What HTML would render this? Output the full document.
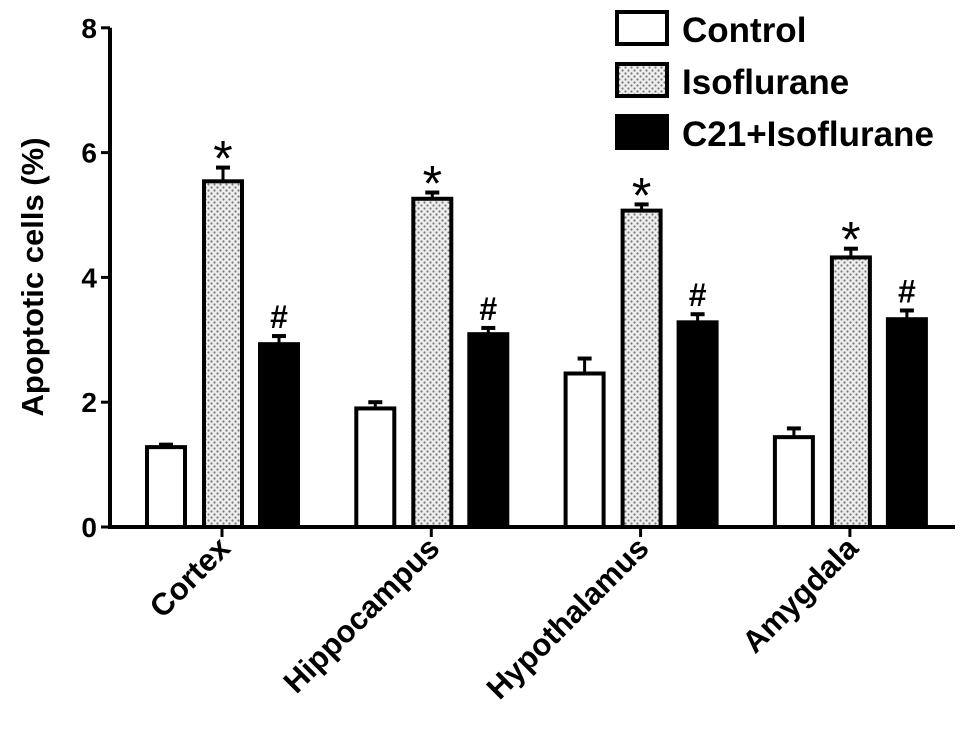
<!DOCTYPE html>
<html><head><meta charset="utf-8"><style>body{margin:0;background:#fff}svg{display:block;font-family:"Liberation Sans",Arial,sans-serif;font-weight:bold}</style></head>
<body>
<svg id="chart" width="969" height="737" viewBox="0 0 969 737" xmlns="http://www.w3.org/2000/svg">
<defs><pattern id="dots" width="6" height="6" patternUnits="userSpaceOnUse"><rect width="6" height="6" fill="#eee"/><circle cx="1.5" cy="1.5" r="1.1" fill="#777"/><circle cx="4.5" cy="4.5" r="1.1" fill="#777"/></pattern></defs>
<g id="plot"></g>
</svg>
<script>
const categories=["Cortex","Hippocampus","Hypothalamus","Amygdala"];
const seriesNames=["Control","Isoflurane","C21+Isoflurane"];
const controlVals=[1.28,1.9,2.46,1.44];
const isoVals=[5.54,5.26,5.07,4.32];
const c21Vals=[2.93,3.09,3.28,3.33];
const controlErr=[0.04,0.1,0.24,0.14];
const isoErr=[0.22,0.1,0.1,0.14];
const c21Err=[0.13,0.1,0.13,0.14];
const yTicks=[0,2,4,6,8];
const isoMarks=["*","*","*","*"];
const c21Marks=["#","#","#","#"];
const NS="http://www.w3.org/2000/svg";
const g=document.getElementById('plot');
const y=v=>527-v*62.4;
const xc=i=>222+i*209.3;
function mk(t,a){const e=document.createElementNS(NS,t);for(const k in a)e.setAttribute(k,a[k]);g.appendChild(e);return e;}
let ax=mk('line',{x1:110,y1:y(8),x2:110,y2:529,stroke:'#000','stroke-width':4});


let bx=mk('line',{x1:108,y1:527,x2:955,y2:527,stroke:'#000','stroke-width':4});


yTicks.forEach(v=>{
 let t=mk('line',{x1:101,y1:y(v),x2:110,y2:y(v),stroke:'#000','stroke-width':3});
 
 
 let l=mk('text',{x:97,y:y(v)+10,'text-anchor':'end','font-size':28});
 l.textContent=v;
 
 
});
let yt=mk('text',{x:0,y:0,'text-anchor':'middle','font-size':31,transform:'translate(43,277) rotate(-90)'});
yt.textContent='Apoptotic cells (%)';


const series=[[controlVals,controlErr,'#fff',-77],[isoVals,isoErr,'url(#dots)',-20],[c21Vals,c21Err,'#000',36]];
categories.forEach((c,i)=>{
 const cx=xc(i);
 let tk=mk('line',{x1:cx,x2:cx,y1:527,y2:537,stroke:'#000','stroke-width':3});
 
 
 let lb=mk('text',{x:0,y:0,'text-anchor':'end','font-size':31,transform:`translate(${cx+10},${550}) rotate(-45)`});
 lb.textContent=c;
 
 
 series.forEach((s,j)=>{
  const v=s[0][i],e=s[1][i],x0=cx+s[3],w=42,mid=x0+w/2;
  let el=mk('line',{x1:mid,x2:mid,y1:y(v),y2:y(v+e),stroke:'#000','stroke-width':3});
  
  
  let cap=mk('line',{x1:mid-7,x2:mid+7,y1:y(v+e),y2:y(v+e),stroke:'#000','stroke-width':4});
  
  
  let r=mk('rect',{x:x0+2,y:y(v),width:w-4,height:527-y(v),fill:s[2],stroke:'#000','stroke-width':4});
  
  
  if(j>0){
   const m=j==1?isoMarks[i]:c21Marks[i];
   let t=mk('text',{x:mid,y:y(v+e)-(j==1?-8:8),'text-anchor':'middle','font-size':j==1?50:32,'font-weight':j==1?'normal':'bold'});
   t.textContent=m;
   
   
  }
 });
});
const fills=['#fff','url(#dots)','#000'];
seriesNames.forEach((n,k)=>{
 const yy=12+k*52;
 let r=mk('rect',{x:617,y:yy,width:50,height:32,fill:fills[k],stroke:'#000','stroke-width':4});
 
 
 let t=mk('text',{x:682,y:yy+30,'font-size':35});
 t.textContent=n;
 
 
});
</script>
</body></html>
